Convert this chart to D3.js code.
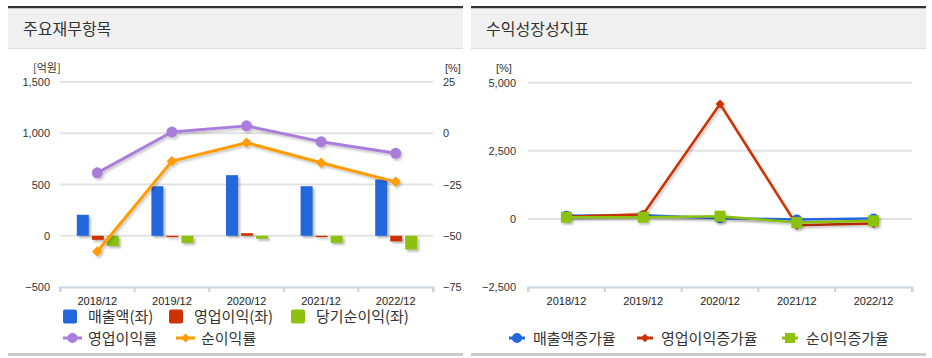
<!DOCTYPE html>
<html><head><meta charset="utf-8">
<script src="https://cdn.jsdelivr.net/npm/d3@7"></script>
<style>
html,body{margin:0;padding:0;background:#fff;}
svg{display:block;font-family:"Liberation Sans",Arial,sans-serif;}
.kr{font-family:"Noto Sans CJK KR","Noto Sans",sans-serif;}
</style></head><body>
<svg id="c" width="932" height="358"></svg>
<script>
const categories = ["2018/12","2019/12","2020/12","2021/12","2022/12"];
// left chart (억원)
const sales = [205, 483, 591, 483, 549];
const opIncome = [-40, -10, 25, -8, -55];
const netIncome = [-100, -70, -30, -70, -135];
// left chart (%)
const opMargin = [-19.3, 0.6, 3.6, -4.1, -9.8];
const netMargin = [-57.7, -13.6, -4.6, -14.4, -23.7];
const leftTicks = [-500, 0, 500, 1000, 1500];
const rightTicks = [-75, -50, -25, 0, 25];
// right chart (%)
const salesGrowth = [120, 135, 22, -18, 14];
const opGrowth = [80, 170, 4220, -230, -170];
const netGrowth = [60, 60, 100, -135, -70];
const growthTicks = [-2500, 0, 2500, 5000];

const C = {blue:"#2268dc", red:"#cc3300", green:"#8cc20c", purple:"#a87ddc", orange:"#ff9c00"};
const svg = d3.select("#c");
const defs = svg.append("defs");
const f = defs.append("filter").attr("id","sh").attr("x","-30%").attr("y","-30%").attr("width","160%").attr("height","160%");
f.append("feDropShadow").attr("dx",2).attr("dy",2).attr("stdDeviation",1.2).attr("flood-color","#000").attr("flood-opacity",0.28);
const f2 = defs.append("filter").attr("id","lsh").attr("x","-10%").attr("y","-10%").attr("width","120%").attr("height","130%");
f2.append("feDropShadow").attr("dx",1.5).attr("dy",2).attr("stdDeviation",1).attr("flood-color","#000").attr("flood-opacity",0.22);

function panel(x0, x1, title){
  svg.append("rect").attr("x",x0).attr("y",6).attr("width",x1-x0).attr("height",2.5).attr("fill","#333");
  svg.append("rect").attr("x",x0).attr("y",8.5).attr("width",x1-x0).attr("height",39.5).attr("fill","#f0f0f0");
  svg.append("rect").attr("x",x0).attr("y",48).attr("width",x1-x0).attr("height",1).attr("fill","#dcdcdc");
  svg.append("rect").attr("x",x0).attr("y",353).attr("width",x1-x0).attr("height",3).attr("fill","#cccccc");
  svg.append("text").attr("class","kr").attr("x",x0+15).attr("y",35).attr("font-size",16).attr("fill","#333").text(title);
}
panel(8, 463, "주요재무항목");
panel(471, 926, "수익성장성지표");

// ---------- left chart ----------
const L = {x0:60, x1:433, yTop:82, yBot:287};
const xL = d3.scaleBand().domain(categories).range([L.x0, L.x1]);
const yL = d3.scaleLinear().domain([-500,1500]).range([L.yBot, L.yTop]);
const yR = d3.scaleLinear().domain([-75,25]).range([L.yBot, L.yTop]);
const gL = svg.append("g");
gL.selectAll("line.grid").data(leftTicks.filter(t=>t>-500)).join("line")
  .attr("x1",L.x0).attr("x2",L.x1).attr("y1",d=>yL(d)).attr("y2",d=>yL(d))
  .attr("stroke","#e2e2e2").attr("stroke-width",2);
const axL = d3.axisLeft(yL).tickValues(leftTicks).tickFormat(d3.format(",")).tickSize(0).tickPadding(10);
gL.append("g").attr("transform",`translate(${L.x0},0)`).call(axL)
  .call(g=>{g.select(".domain").remove(); g.selectAll("text").attr("font-size",11).attr("fill","#333").attr("font-family","Liberation Sans, Arial, sans-serif");});
const axR = d3.axisRight(yR).tickValues(rightTicks).tickSize(0).tickPadding(10);
gL.append("g").attr("transform",`translate(${L.x1},0)`).call(axR)
  .call(g=>{g.select(".domain").remove(); g.selectAll("text").attr("font-size",11).attr("fill","#333").attr("font-family","Liberation Sans, Arial, sans-serif");});
gL.append("text").attr("class","kr").attr("x",33).attr("y",72).attr("font-size",11).attr("fill","#333").text("[억원]");
gL.append("text").attr("x",445).attr("y",72).attr("font-size",11).attr("fill","#333").text("[%]");
const axB = d3.axisBottom(xL).tickSize(5).tickSizeOuter(5).tickPadding(5);
const bx = gL.append("g").attr("transform",`translate(0,${L.yBot})`).call(axB);
bx.select(".domain").attr("stroke","#c9d4e0").attr("stroke-width",2);
bx.selectAll(".tick line").remove();
// ticks at band boundaries
bx.selectAll("line.bt").data(d3.range(categories.length+1)).join("line")
  .attr("x1",i=>L.x0+i*xL.step()).attr("x2",i=>L.x0+i*xL.step()).attr("y1",0).attr("y2",5)
  .attr("stroke","#c9d4e0").attr("stroke-width",2);
bx.selectAll("text").attr("font-size",11).attr("fill","#222");

const seriesBars = [{k:"s",v:sales,c:C.blue},{k:"o",v:opIncome,c:C.red},{k:"n",v:netIncome,c:C.green}];
const inner = d3.scaleBand().domain(["s","o","n"]).range([-20.5,21.5]).paddingInner(0.2);
seriesBars.forEach(s=>{
  gL.append("g").attr("filter","url(#sh)").selectAll("rect").data(s.v).join("rect")
    .attr("x",(d,i)=>xL(categories[i])+xL.bandwidth()/2+inner(s.k))
    .attr("width",inner.bandwidth())
    .attr("y",d=>Math.min(yL(d),yL(0)))
    .attr("height",d=>Math.max(1.5,Math.abs(yL(d)-yL(0))))
    .attr("fill",s.c);
});
const cx = (d,i)=>xL(categories[i])+xL.bandwidth()/2;
const line = d3.line().x(cx).y(d=>yR(d));
const diamond = d3.symbol().type(d3.symbolDiamond2 || d3.symbolDiamond).size(70);
[[opMargin,C.purple,"c"],[netMargin,C.orange,"d"]].forEach(([v,c,m])=>{
  const g = gL.append("g").attr("filter","url(#lsh)");
  g.append("path").datum(v).attr("d",line).attr("fill","none").attr("stroke",c).attr("stroke-width",3).attr("stroke-linejoin","round");
  if(m==="c"){
    g.selectAll("circle").data(v).join("circle").attr("cx",cx).attr("cy",d=>yR(d)).attr("r",5.5).attr("fill",c);
  } else {
    g.selectAll("path.m").data(v).join("path").attr("class","m")
      .attr("transform",(d,i)=>`translate(${cx(d,i)},${yR(d)}) rotate(45)`)
      .attr("d",d3.symbol().type(d3.symbolSquare).size(55)).attr("fill",c);
  }
});
// left legend
const lg = svg.append("g").attr("class","kr");
const lItems = [["매출액(좌)",C.blue,63],["영업이익(좌)",C.red,169],["당기순이익(좌)",C.green,291]];
lItems.forEach(([t,c,x])=>{
  lg.append("rect").attr("x",x).attr("y",309.5).attr("width",14).attr("height",14).attr("rx",2).attr("fill",c);
  lg.append("text").attr("x",x+25).attr("y",322).attr("font-size",15).attr("fill","#333").text(t);
});
const lItems2 = [["영업이익률",C.purple,63,"c"],["순이익률",C.orange,176,"d"]];
lItems2.forEach(([t,c,x,m])=>{
  lg.append("line").attr("x1",x).attr("x2",x+19).attr("y1",338).attr("y2",338).attr("stroke",c).attr("stroke-width",3);
  if(m==="c") lg.append("circle").attr("cx",x+9.5).attr("cy",338).attr("r",5).attr("fill",c);
  else lg.append("path").attr("transform",`translate(${x+9.5},338) rotate(45)`).attr("d",d3.symbol().type(d3.symbolSquare).size(40)).attr("fill",c);
  lg.append("text").attr("x",x+25).attr("y",343.5).attr("font-size",15).attr("fill","#333").text(t);
});

// ---------- right chart ----------
const R = {x0:528, x1:912, yTop:82.7, yBot:287};
const xG = d3.scaleBand().domain(categories).range([R.x0, R.x1]);
const yG = d3.scaleLinear().domain([-2500,5000]).range([R.yBot, R.yTop]);
const gR = svg.append("g");
gR.selectAll("line.grid").data(growthTicks.filter(t=>t>-2500)).join("line")
  .attr("x1",R.x0).attr("x2",R.x1).attr("y1",d=>yG(d)).attr("y2",d=>yG(d))
  .attr("stroke","#e2e2e2").attr("stroke-width",2);
gR.append("g").attr("transform",`translate(${R.x0},0)`)
  .call(d3.axisLeft(yG).tickValues(growthTicks).tickFormat(d3.format(",")).tickSize(0).tickPadding(12))
  .call(g=>{g.select(".domain").remove(); g.selectAll("text").attr("font-size",11).attr("fill","#333").attr("font-family","Liberation Sans, Arial, sans-serif");});
gR.append("text").attr("x",496).attr("y",72).attr("font-size",11).attr("fill","#333").text("[%]");
const bx2 = gR.append("g").attr("transform",`translate(0,${R.yBot})`).call(d3.axisBottom(xG).tickSize(5).tickPadding(5));
bx2.select(".domain").attr("stroke","#c9d4e0").attr("stroke-width",2);
bx2.selectAll(".tick line").remove();
bx2.selectAll("line.bt").data(d3.range(categories.length+1)).join("line")
  .attr("x1",i=>R.x0+i*xG.step()).attr("x2",i=>R.x0+i*xG.step()).attr("y1",0).attr("y2",5)
  .attr("stroke","#c9d4e0").attr("stroke-width",2);
bx2.selectAll("text").attr("font-size",11).attr("fill","#222");
const gx = (d,i)=>xG(categories[i])+xG.bandwidth()/2;
const gline = d3.line().x(gx).y(d=>yG(d));
[[salesGrowth,C.blue,"c"],[opGrowth,C.red,"d"],[netGrowth,C.green,"s"]].forEach(([v,c,m])=>{
  const g = gR.append("g").attr("filter","url(#lsh)");
  g.append("path").datum(v).attr("d",gline).attr("fill","none").attr("stroke",c).attr("stroke-width",2.5).attr("stroke-linejoin","round");
  if(m==="c") g.selectAll("circle").data(v).join("circle").attr("cx",gx).attr("cy",d=>yG(d)).attr("r",5).attr("fill",c);
  else if(m==="d") g.selectAll("path.m").data(v).join("path").attr("class","m")
      .attr("transform",(d,i)=>`translate(${gx(d,i)},${yG(d)}) rotate(45)`)
      .attr("d",d3.symbol().type(d3.symbolSquare).size(40)).attr("fill",c);
  else g.selectAll("rect").data(v).join("rect")
      .attr("x",(d,i)=>gx(d,i)-5.5).attr("y",d=>yG(d)-5.5).attr("width",11).attr("height",11).attr("fill",c);
});
const rg = svg.append("g").attr("class","kr");
[["매출액증가율",C.blue,509,"c"],["영업이익증가율",C.red,637,"d"],["순이익증가율",C.green,782,"s"]].forEach(([t,c,x,m])=>{
  rg.append("line").attr("x1",x).attr("x2",x+16).attr("y1",338).attr("y2",338).attr("stroke",c).attr("stroke-width",3);
  if(m==="c") rg.append("circle").attr("cx",x+8).attr("cy",338).attr("r",5).attr("fill",c);
  else if(m==="d") rg.append("path").attr("transform",`translate(${x+8},338) rotate(45)`).attr("d",d3.symbol().type(d3.symbolSquare).size(36)).attr("fill",c);
  else rg.append("rect").attr("x",x+3).attr("y",333).attr("width",10).attr("height",10).attr("fill",c);
  rg.append("text").attr("x",x+24).attr("y",343.5).attr("font-size",15).attr("fill","#333").text(t);
});
</script></body></html>
